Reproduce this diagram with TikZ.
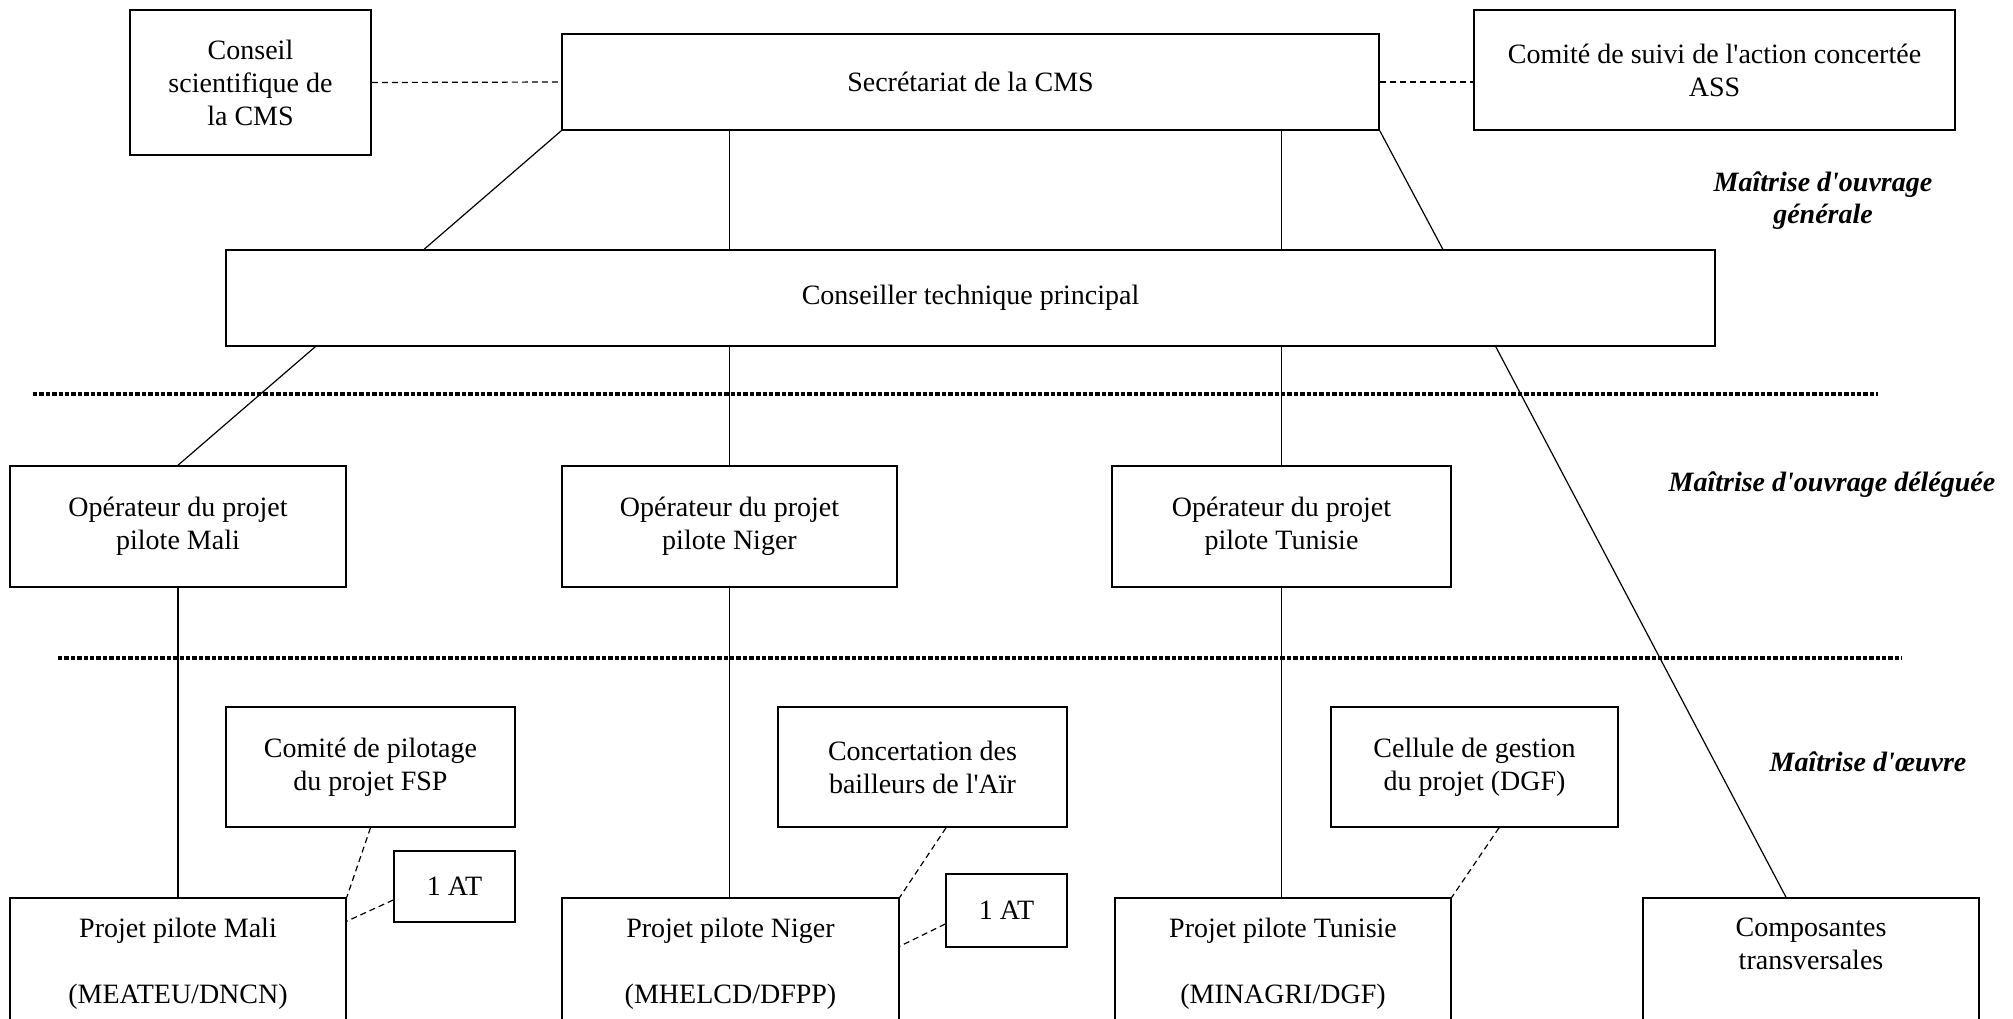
\documentclass[tikz,border=0pt]{standalone}
\usepackage{fontspec}
\setmainfont{Liberation Serif}
\usepackage{tikz}

\begin{document}
\begin{tikzpicture}[x=0.5pt,y=-0.5pt,
  box/.style={draw,line width=0.8pt,inner sep=0pt,align=center,font=\fontsize{14}{16.5}\selectfont},
  txt/.style={inner sep=0pt,align=center,font=\fontsize{14}{16.5}\selectfont},
  lbl/.style={inner sep=0pt,align=center,font=\fontsize{14}{16}\selectfont\bfseries\itshape},
  link/.style={line width=0.6pt},
  dlink/.style={line width=0.6pt,dash pattern=on 3pt off 2pt},
  sepline/.style={line width=1.6pt,dash pattern=on 2.2pt off 1pt}]
\useasboundingbox (0,0) rectangle (2013,1018);
\clip (0,0) rectangle (2013,1018);

\node[box,minimum width=120.5pt,minimum height=72.5pt] (csci) at (250.5,82.5) {Conseil\\scientifique de\\la CMS};
\node[box,minimum width=408.5pt,minimum height=48pt] (secr) at (970.5,82) {Secrétariat de la CMS};
\node[box,minimum width=240.5pt,minimum height=60pt] (cass) at (1714.5,70) {Comité de suivi de l\textquotesingle action concertée\\ASS};
\node[box,minimum width=744.5pt,minimum height=48pt] (ctp) at (970.5,298) {Conseiller technique principal};

\node[box,minimum width=168pt,minimum height=60.5pt] (opmali) at (178,526.5) {Opérateur du projet\\pilote Mali};
\node[box,minimum width=167.5pt,minimum height=60.5pt] (opniger) at (729.5,526.5) {Opérateur du projet\\pilote Niger};
\node[box,minimum width=169.5pt,minimum height=60.5pt] (optun) at (1281.5,526.5) {Opérateur du projet\\pilote Tunisie};

\node[box,minimum width=144.5pt,minimum height=60pt] (copil) at (370.5,767) {Comité de pilotage\\du projet FSP};
\node[box,minimum width=144.5pt,minimum height=60pt] (conc) at (922.5,767) {Concertation des\\bailleurs de l\textquotesingle Aïr};
\node[box,minimum width=143.5pt,minimum height=60pt] (cell) at (1474.5,767) {Cellule de gestion\\du projet (DGF)};
\node[box,minimum width=60.5pt,minimum height=35.5pt] (atmali) at (454.5,886.5) {1 AT};
\node[box,minimum width=60.5pt,minimum height=36.5pt] (atniger) at (1006.5,910.5) {1 AT};

\node[box,minimum width=168pt,minimum height=101pt] (pmali) at (178,999) {};
\node[box,minimum width=168.5pt,minimum height=101pt] (pniger) at (730.5,999) {};
\node[box,minimum width=168pt,minimum height=101pt] (ptun) at (1283,999) {};
\node[box,minimum width=168pt,minimum height=101pt] (pcomp) at (1811,999) {};
\node[txt,anchor=north] (tmali) at ([yshift=-10pt]pmali.north) {Projet pilote Mali\\[16.5pt](MEATEU/DNCN)};
\node[txt,anchor=north] (tniger) at ([yshift=-10pt]pniger.north) {Projet pilote Niger\\[16.5pt](MHELCD/DFPP)};
\node[txt,anchor=north] (ttun) at ([yshift=-10pt]ptun.north) {Projet pilote Tunisie\\[16.5pt](MINAGRI/DGF)};
\node[txt,anchor=north] (tcomp) at ([yshift=-10pt]pcomp.north) {Composantes\\transversales};

\node[lbl] (mog) at (1823,201) {Maîtrise d\textquotesingle ouvrage\\générale};
\node[lbl] (mod) at (1832,485) {Maîtrise d\textquotesingle ouvrage déléguée};
\node[lbl] (moe) at (1868,762) {Maîtrise d\textquotesingle œuvre};

\draw[sepline] (33,394) -- (1878,394);
\draw[sepline] (58,658) -- (1902,658);

\draw[dlink] (csci.east) -- (secr.west);
\draw[dlink] (secr.east) -- (secr.east -| cass.west);
\draw[link] (secr.south west) -- ([xshift=99.5pt]ctp.north west);
\draw[link] (secr.south -| opniger.north) -- (ctp.north -| opniger.north);
\draw[link] (secr.south -| optun.north) -- (ctp.north -| optun.north);
\draw[link] (secr.south east) -- ([xshift=-136.5pt]ctp.north east);

\draw[link] ([xshift=45pt]ctp.south west) -- (opmali.north);
\draw[link] (ctp.south -| opniger.north) -- (opniger.north);
\draw[link] (ctp.south -| optun.north) -- (optun.north);
\draw[link] ([xshift=-110pt]ctp.south east) -- ([xshift=-12.5pt]pcomp.north);

\draw[link] (opmali.south) -- (opmali.south |- pmali.north);
\draw[link] (opniger.south) -- (opniger.south |- pniger.north);
\draw[link] (optun.south) -- (optun.south |- ptun.north);

\draw[dlink] (copil.south) -- (pmali.north east);
\draw[dlink] ([yshift=-6.75pt]atmali.west) -- ([yshift=-12pt]pmali.north east);
\draw[dlink] ([xshift=11.75pt]conc.south) -- (pniger.north east);
\draw[dlink] ([yshift=-6.75pt]atniger.west) -- ([yshift=-24.5pt]pniger.north east);
\draw[dlink] ([xshift=12.25pt]cell.south) -- (ptun.north east);
\end{tikzpicture}
\end{document}
